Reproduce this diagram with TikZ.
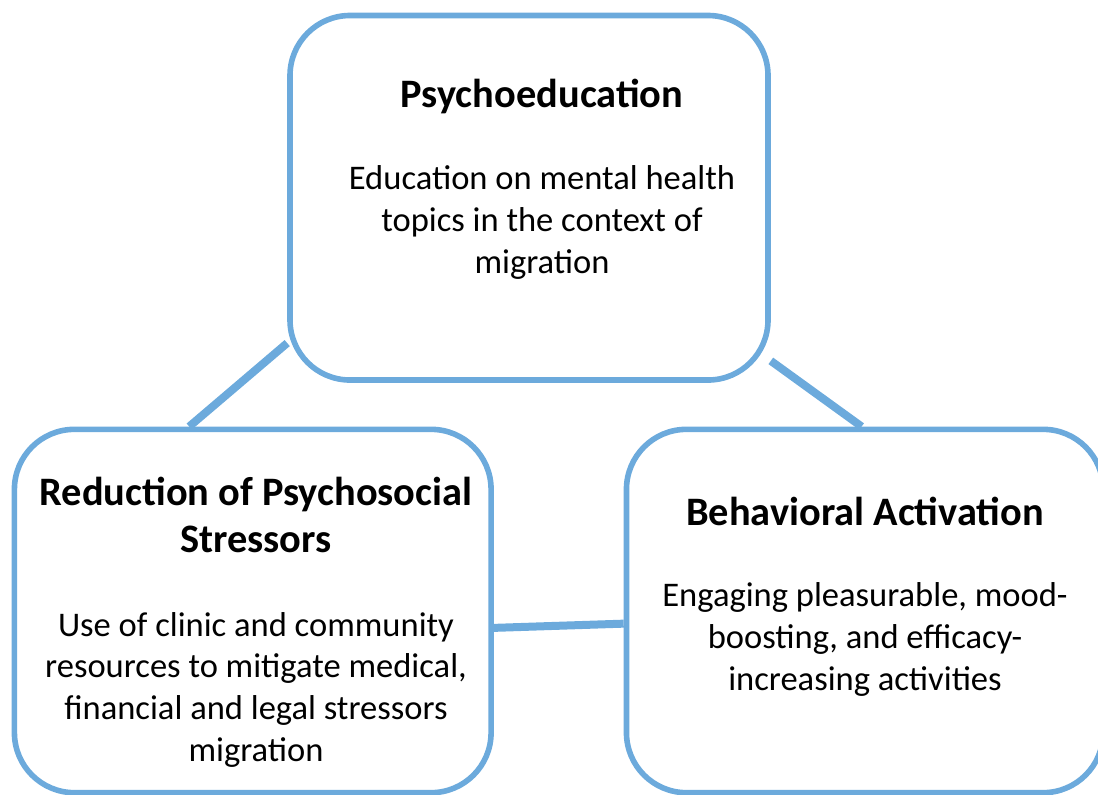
\documentclass[tikz,border=0pt]{standalone}
\usepackage{fontspec}
\setmainfont{Carlito}
\usetikzlibrary{positioning,backgrounds}

\definecolor{boxblue}{RGB}{108,170,220}

\tikzset{
  stage/.style={draw=boxblue, line width=4.2pt, rounded corners=45pt, fill=white,
    minimum width=357.5pt, minimum height=272.5pt, inner sep=0pt},
  link/.style={draw=boxblue, line width=6pt},
  heading/.style={font=\bfseries\fontsize{30.3}{35.25}\selectfont, align=center, anchor=base, inner sep=0pt},
  detail/.style={font=\fontsize{25.9}{31.2}\selectfont, align=center, anchor=base, inner sep=0pt}
}

\begin{document}
\begin{tikzpicture}[x=0.75pt,y=-0.75pt]
\useasboundingbox (0,0) rectangle (1098,794);
\clip (0,0) rectangle (1098,794);

% the three components
\node[stage, minimum width=358.5pt, minimum height=273.4pt] (ptop) at (529,197.75) {};
\node[stage] (pleft) at (252.75,611) {};
\node[stage] (pright) at (864.8,611) {};

% titles and descriptions (base = last line)
\node[heading] (ttop) at (542,107) {Psychoeducation};
\node[detail] (dtop) at (542,273) {Education on mental health\\topics in the context of\\migration};

\node[heading] (tleft) at (256,552) {Reduction of Psychosocial\\Stressors};
\node[detail] (dleft) at (256,761) {Use of clinic and community\\resources to mitigate medical,\\financial and legal stressors\\migration};

\node[heading] (tright) at (865,525) {Behavioral Activation};
\node[detail] (dright) at (865,690) {Engaging pleasurable, mood-\\boosting, and efficacy-\\increasing activities};

% connectors behind the boxes
\begin{scope}[on background layer]
\draw[link] (ptop.211.6) -- (pleft.109.6);
\draw[link] (ptop.326) -- (pright.91.5);
\draw[link] (pleft.356.9) -- (pright.183.1);
\end{scope}
\end{tikzpicture}
\end{document}
